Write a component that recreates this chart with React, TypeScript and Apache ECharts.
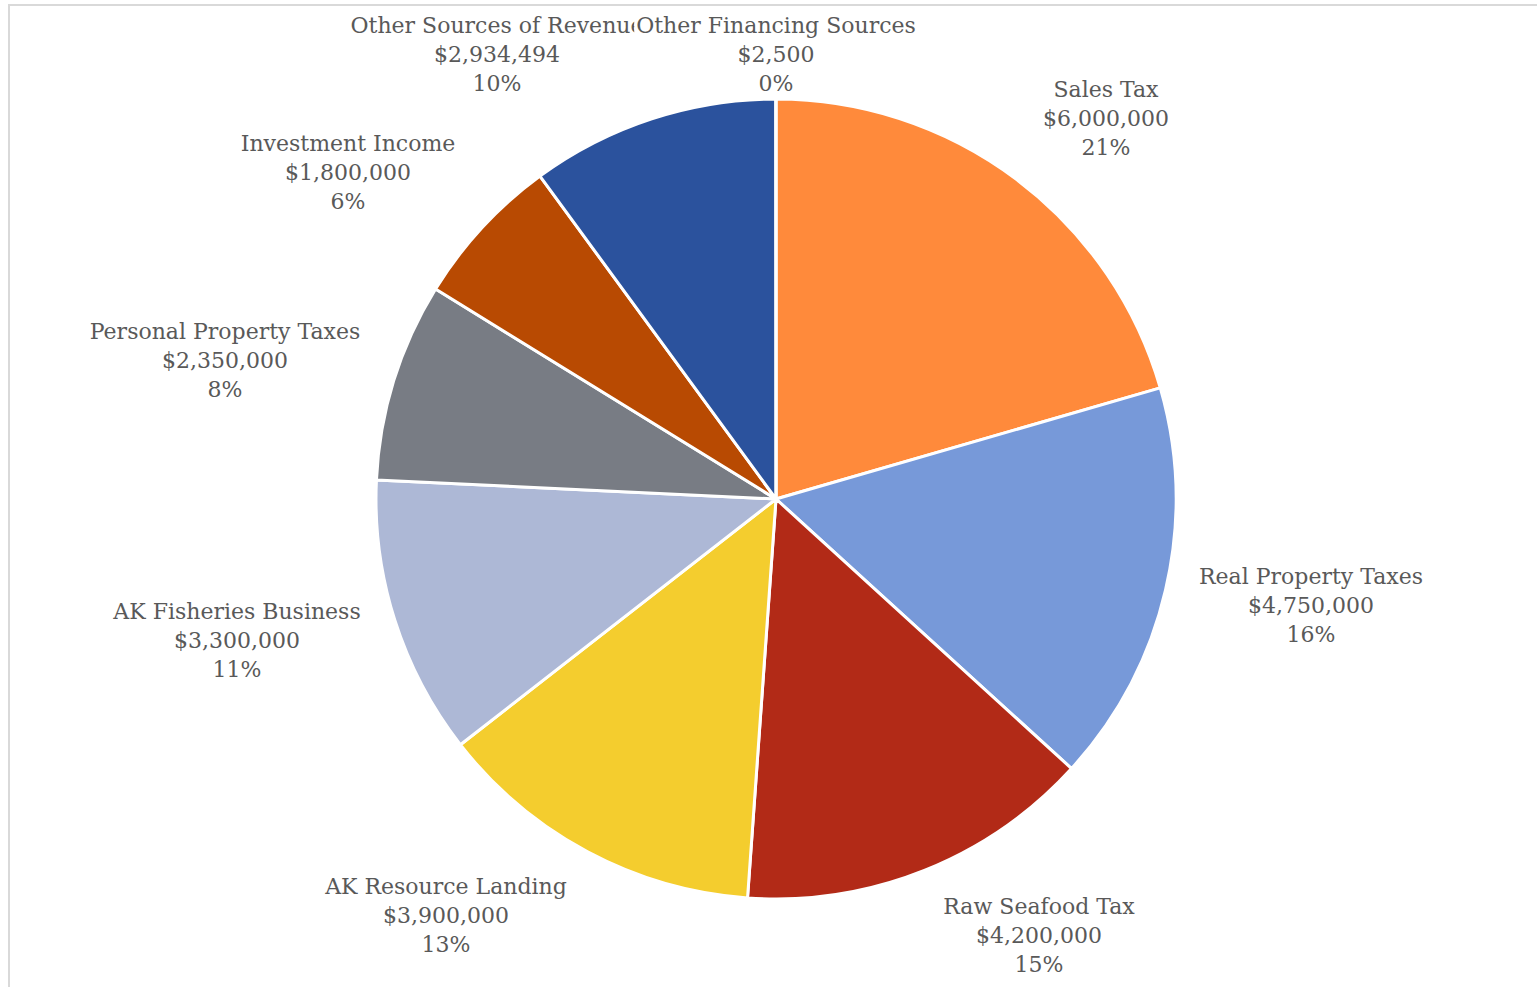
import React, { useEffect, useRef } from "react";
import * as echarts from "echarts";

const categories = [
  "Sales Tax",
  "Real Property Taxes",
  "Raw Seafood Tax",
  "AK Resource Landing",
  "AK Fisheries Business",
  "Personal Property Taxes",
  "Investment Income",
  "Other Sources of Revenue",
  "Other Financing Sources",
];

const values = [6000000, 4750000, 4200000, 3900000, 3300000, 2350000, 1800000, 2934494, 2500];

const colors = [
  "#FF8A3B",
  "#7799D9",
  "#B22A17",
  "#F4CD2E",
  "#ADB8D6",
  "#787C84",
  "#B84A02",
  "#2B529D",
  "#A9BCE4",
];

// label block centres, offsets from the pie centre (px)
const labelOffsets = [
  [330, -381],
  [535, 106],
  [263, 436],
  [-330, 416],
  [-539, 141],
  [-551, -139],
  [-428, -327],
  [-279, -445],
  [0, -445],
];

const CX = 776;
const CY = 499;
const R = 400;

export default function App() {
  const ref = useRef<HTMLDivElement>(null);

  useEffect(() => {
    if (!ref.current) return;
    const chart = echarts.init(ref.current, undefined, { renderer: "svg" });
    chart.setOption({
      animation: false,
      series: [
        {
          type: "pie",
          center: [CX, CY],
          radius: [0, R],
          startAngle: 90,
          clockwise: true,
          percentPrecision: 0,
          avoidLabelOverlap: false,
          itemStyle: { borderColor: "#ffffff", borderWidth: 3 },
          labelLine: { show: false },
          label: {
            show: true,
            position: "outside",
            fontFamily: "DejaVu Serif",
            fontSize: 22,
            lineHeight: 29,
            color: "#595959",
            align: "center",
            backgroundColor: "#ffffff",
            padding: [0, 2],
            formatter: (p: any) =>
              p.name + "\n$" + Number(p.value).toLocaleString("en-US") + "\n" + p.percent + "%",
          },
          labelLayout: (p: any) => {
            const o = labelOffsets[p.dataIndex];
            return {
              x: CX + o[0],
              y: CY + o[1],
              align: "center",
              verticalAlign: "middle",
              hideOverlap: false,
            };
          },
          data: categories.map((name, i) => ({
            name,
            value: values[i],
            itemStyle: { color: colors[i] },
          })),
        },
      ],
    });
    return () => chart.dispose();
  }, []);

  return (
    <div>
      <div
        style={{
          position: "absolute",
          left: 8,
          top: 4,
          width: 1560,
          height: 1020,
          borderLeft: "2px solid #d9d9d9",
          borderTop: "2px solid #d9d9d9",
          boxSizing: "border-box",
        }}
      />
      <div
        ref={ref}
        style={{ position: "absolute", left: 0, top: 0, width: 1537, height: 987 }}
      />
    </div>
  );
}
